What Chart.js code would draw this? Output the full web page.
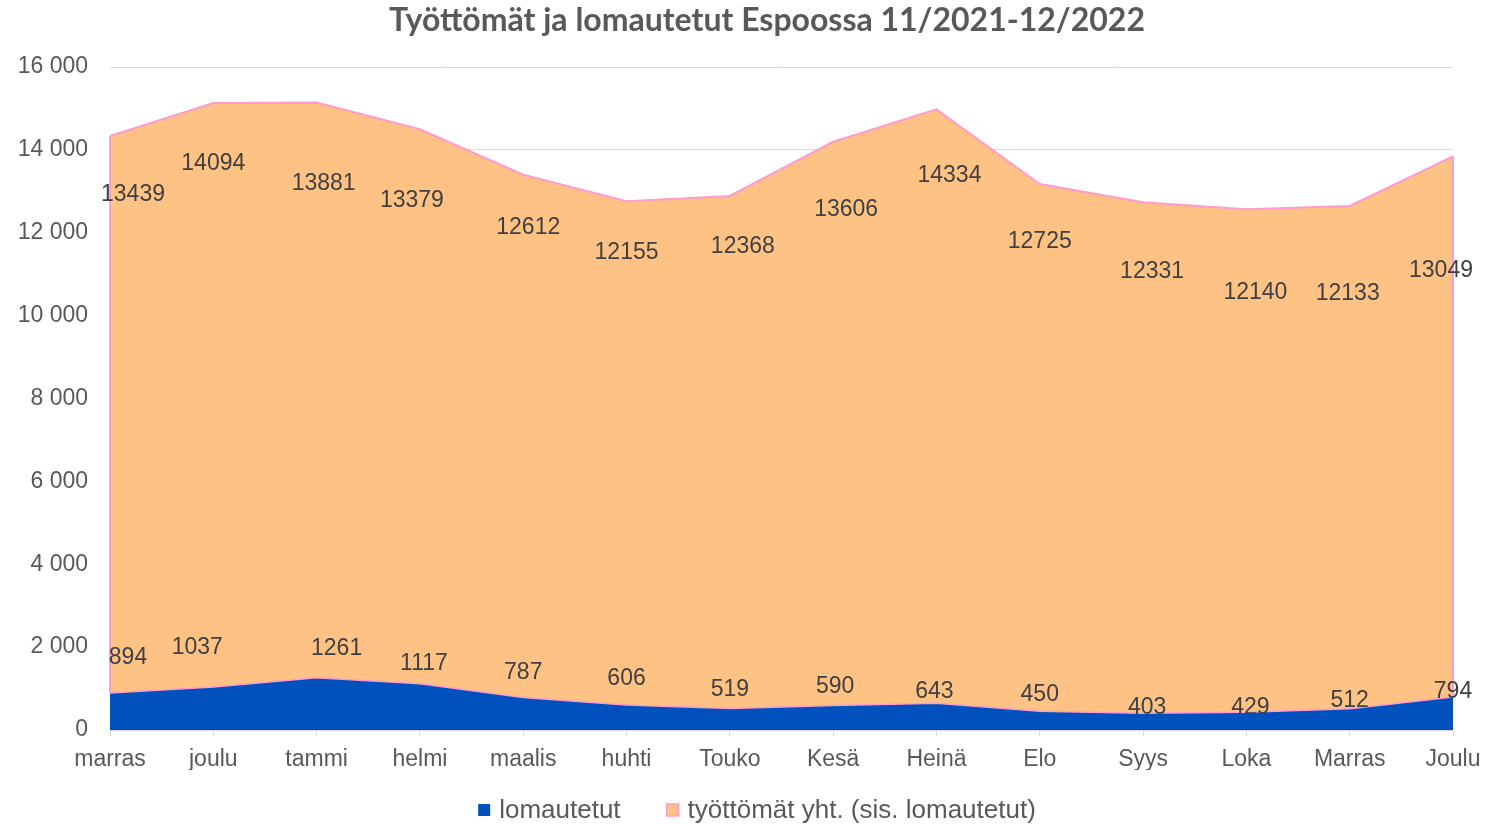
<!DOCTYPE html>
<html lang="fi">
<head>
<meta charset="UTF-8">
<title>Työttömät ja lomautetut Espoossa 11/2021-12/2022</title>
<script src="https://cdn.jsdelivr.net/npm/chart.js"></script>
<style>
  html, body { margin: 0; padding: 0; background: #fff; }
  #wrap { width: 1504px; height: 825px; }
</style>
</head>
<body>
<div id="wrap"><canvas id="chart"></canvas></div>
<script>
const months = ['marras', 'joulu', 'tammi', 'helmi', 'maalis', 'huhti', 'Touko', 'Kesä', 'Heinä', 'Elo', 'Syys', 'Loka', 'Marras', 'Joulu'];
const lomautetut = [894, 1037, 1261, 1117, 787, 606, 519, 590, 643, 450, 403, 429, 512, 794];
const tyottomat = [13439, 14094, 13881, 13379, 12612, 12155, 12368, 13606, 14334, 12725, 12331, 12140, 12133, 13049];
const seriesNames = ['lomautetut', 'työttömät yht. (sis. lomautetut)'];
const chartTitle = 'Työttömät ja lomautetut Espoossa 11/2021-12/2022';
const yMax = 16000;
const yStep = 2000;

// Excel scattered the value labels a bit, these are px nudges from the top edge of each band
const blueLabelDx = [18, -16, 20, 4, 0, 0, 0, 2, -2, 0, 4, 4, 0, 0];
const blueLabelDy = [-35, -39, -29, -20, -25, -26, -19, -19, -12, -17, -6, -5, -8, -5];
const orangeLabelDx = [23, 0, 7, -8, 5, 0, 13, 13, 13, 0, 9, 9, -2, -12];
const orangeLabelDy = [59, 61, 81, 71, 53, 51, 51, 68, 66, 58, 69, 83, 88, 114];

const BLUE = '#0051BD';
const ORANGE = '#FFC285';
const PINK = '#FF9BCD';
const GRID = '#D9D9D9';
const TEXT = '#595959';
const FONT = '"Liberation Sans", Arial, sans-serif';

const extras = {
  id: 'extras',
  afterDatasetsDraw(chart) {
    const ctx = chart.ctx;
    const blue = chart.getDatasetMeta(0).data;
    const orange = chart.getDatasetMeta(1).data;
    const last = orange.length - 1;

    // pink outline on the two vertical edges of the orange band
    ctx.save();
    ctx.strokeStyle = PINK;
    ctx.lineWidth = 2;
    [0, last].forEach(i => {
      ctx.beginPath();
      ctx.moveTo(orange[i].x, blue[i].y);
      ctx.lineTo(orange[i].x, orange[i].y);
      ctx.stroke();
    });

    ctx.font = '23px ' + FONT;
    ctx.fillStyle = '#404040';
    ctx.textAlign = 'center';
    ctx.textBaseline = 'middle';
    lomautetut.forEach((v, i) => {
      ctx.fillText(String(v), blue[i].x + blueLabelDx[i], blue[i].y + blueLabelDy[i]);
    });
    tyottomat.forEach((v, i) => {
      ctx.fillText(String(v), orange[i].x + orangeLabelDx[i], orange[i].y + orangeLabelDy[i]);
    });
    ctx.restore();
  },
  afterDraw(chart) {
    const ctx = chart.ctx;
    ctx.save();
    // title
    ctx.font = 'bold 32px Lato, "Open Sans", sans-serif';
    ctx.fillStyle = TEXT;
    ctx.textAlign = 'center';
    ctx.textBaseline = 'middle';
    ctx.fillText(chartTitle, 767, 21);

    // legend
    ctx.font = '26px ' + FONT;
    ctx.textAlign = 'left';
    const box = 12, gapText = 9, gapItem = 46;
    const widths = seriesNames.map(s => ctx.measureText(s).width);
    const total = widths.reduce((a, w) => a + box + gapText + w, 0) + gapItem;
    let x = 757 - total / 2;
    const y = 810;
    seriesNames.forEach((name, i) => {
      ctx.fillStyle = i === 0 ? BLUE : ORANGE;
      ctx.fillRect(x, y - box / 2, box, box);
      if (i === 1) {
        ctx.strokeStyle = PINK;
        ctx.lineWidth = 1.5;
        ctx.strokeRect(x, y - box / 2, box, box);
      }
      ctx.fillStyle = TEXT;
      ctx.fillText(name, x + box + gapText, y + 1);
      x += box + gapText + widths[i] + gapItem;
    });
    ctx.restore();
  }
};

new Chart(document.getElementById('chart'), {
  type: 'line',
  data: {
    labels: months,
    datasets: [
      {
        label: seriesNames[0],
        data: lomautetut,
        backgroundColor: BLUE,
        borderColor: PINK,
        borderWidth: 1.5,
        fill: 'origin',
        pointRadius: 0,
        tension: 0
      },
      {
        label: seriesNames[1],
        data: tyottomat,
        backgroundColor: ORANGE,
        borderColor: PINK,
        borderWidth: 2,
        fill: '-1',
        pointRadius: 0,
        tension: 0
      }
    ]
  },
  options: {
    responsive: true,
    maintainAspectRatio: false,
    animation: false,
    layout: { padding: { top: 67, right: 51, bottom: 55, left: 0 } },
    plugins: {
      legend: { display: false },
      title: { display: false },
      tooltip: { enabled: false }
    },
    scales: {
      x: {
        offset: false,
        grid: { display: true, drawOnChartArea: false, drawTicks: true, tickLength: 6, color: GRID },
        border: { display: true, color: GRID, width: 1 },
        ticks: { color: TEXT, font: { family: FONT, size: 23 }, padding: 10, maxRotation: 0, autoSkip: false },
        afterFit: s => { s.height = 40; }
      },
      y: {
        stacked: true,
        min: 0,
        max: yMax,
        grid: { color: GRID, drawTicks: false },
        border: { display: false },
        ticks: {
          stepSize: yStep,
          color: TEXT,
          font: { family: FONT, size: 23 },
          padding: 22,
          callback: v => String(v).replace(/\B(?=(\d{3})+(?!\d))/g, ' ')
        },
        afterFit: s => { s.width = 110; }
      }
    }
  },
  plugins: [extras]
});
</script>
</body>
</html>
